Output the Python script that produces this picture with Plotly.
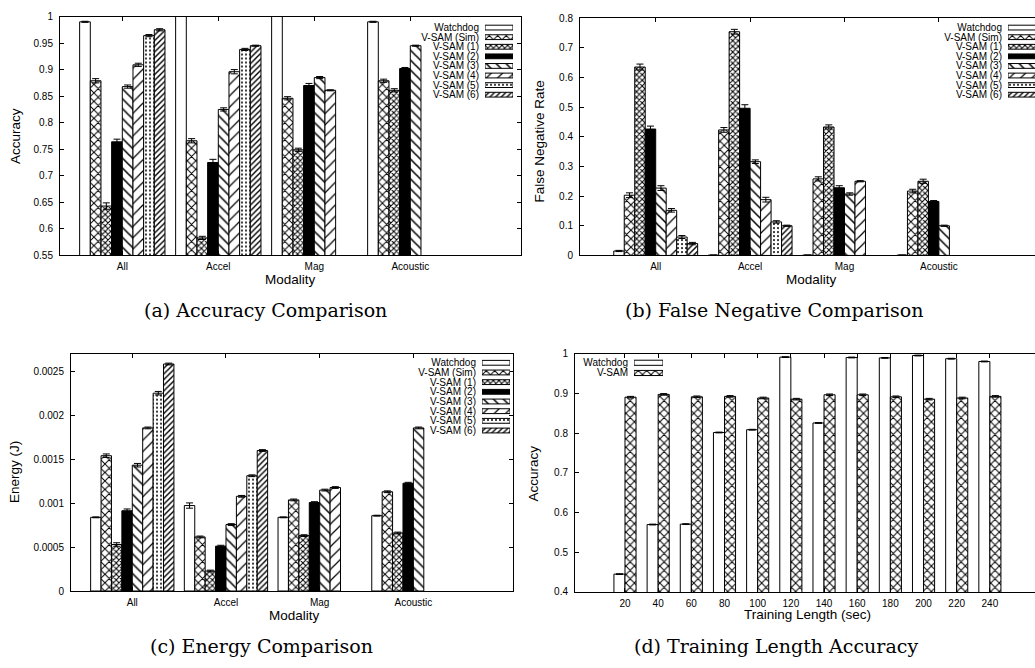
import plotly.graph_objects as go

W, H = 1035, 668


def px(x):
    return x / W


def py(y):
    return 1 - y / H


FONT = "Liberation Sans, Arial, Helvetica, sans-serif"
SERIF = "DejaVu Serif, serif"

# ---------------- data ----------------
series = ["Watchdog", "V-SAM (Sim)", "V-SAM (1)", "V-SAM (2)",
          "V-SAM (3)", "V-SAM (4)", "V-SAM (5)", "V-SAM (6)"]
modalities = ["All", "Accel", "Mag", "Acoustic"]

# (a) Accuracy
acc_watchdog = [0.990, 1.000, 1.000, 0.990]
acc_sim = [0.879, 0.766, 0.846, 0.879]
acc_v1 = [0.643, 0.583, 0.749, 0.861]
acc_v2 = [0.764, 0.725, 0.870, 0.902]
acc_v3 = [0.868, 0.825, 0.885, 0.945]
acc_v4 = [0.909, 0.896, 0.861, None]
acc_v5 = [0.964, 0.938, None, None]
acc_v6 = [0.975, 0.945, None, None]
acc_err = [
    [0.001, 0.0, 0.0, 0.001],
    [0.004, 0.004, 0.003, 0.003],
    [0.006, 0.003, 0.003, 0.003],
    [0.005, 0.006, 0.004, 0.002],
    [0.003, 0.003, 0.002, 0.001],
    [0.003, 0.004, 0.001, 0],
    [0.002, 0.002, 0, 0],
    [0.002, 0.001, 0, 0],
]

# (b) False negative rate
fnr_watchdog = [0.015, 0.001, 0.001, 0.001]
fnr_sim = [0.203, 0.423, 0.258, 0.217]
fnr_v1 = [0.635, 0.754, 0.433, 0.250]
fnr_v2 = [0.426, 0.496, 0.228, 0.182]
fnr_v3 = [0.227, 0.316, 0.207, 0.100]
fnr_v4 = [0.152, 0.188, 0.250, None]
fnr_v5 = [0.062, 0.113, None, None]
fnr_v6 = [0.040, 0.100, None, None]
fnr_err = [
    [0.002, 0, 0, 0],
    [0.008, 0.008, 0.007, 0.006],
    [0.010, 0.008, 0.007, 0.007],
    [0.010, 0.012, 0.007, 0.003],
    [0.008, 0.006, 0.004, 0.002],
    [0.006, 0.008, 0.002, 0],
    [0.005, 0.004, 0, 0],
    [0.004, 0.002, 0, 0],
]

# (c) Energy
en_watchdog = [0.000838, 0.000972, 0.000838, 0.000857]
en_sim = [0.001539, 0.000615, 0.001036, 0.001129]
en_v1 = [0.000529, 0.000227, 0.000630, 0.000660]
en_v2 = [0.000913, 0.000510, 0.001006, 0.001226]
en_v3 = [0.001431, 0.000756, 0.001148, 0.001855]
en_v4 = [0.001855, 0.001077, 0.001177, None]
en_v5 = [0.002250, 0.001311, None, None]
en_v6 = [0.002582, 0.001598, None, None]
en_err = [
    [0.000005, 0.00003, 0.000005, 0.000005],
    [0.00002, 0.00001, 0.00001, 0.00001],
    [0.00002, 0.00001, 0.00001, 0.00001],
    [0.00002, 0.00001, 0.00001, 0.00001],
    [0.00002, 0.00001, 0.00001, 0.00001],
    [0.00001, 0.00001, 0.00001, 0],
    [0.00002, 0.00001, 0, 0],
    [0.00001, 0.00001, 0, 0],
]

# (d) Training length accuracy
train_len = ["20", "40", "60", "80", "100", "120", "140", "160", "180", "200", "220", "240"]
d_names = ["Watchdog", "V-SAM"]
d_watchdog = [0.445, 0.570, 0.571, 0.802, 0.809, 0.992, 0.826, 0.991, 0.990, 0.996, 0.988, 0.981]
d_vsam = [0.891, 0.898, 0.892, 0.893, 0.889, 0.886, 0.897, 0.897, 0.892, 0.886, 0.889, 0.893]
d_err_watchdog = [0.001] * 12
d_err_vsam = [0.002] * 12

# tick labels
acc_ticks = [0.55, 0.6, 0.65, 0.7, 0.75, 0.8, 0.85, 0.9, 0.95, 1.0]
acc_ticktext = ["0.55", "0.6", "0.65", "0.7", "0.75", "0.8", "0.85", "0.9", "0.95", "1"]
fnr_ticks = [0, 0.1, 0.2, 0.3, 0.4, 0.5, 0.6, 0.7, 0.8]
fnr_ticktext = ["0", "0.1", "0.2", "0.3", "0.4", "0.5", "0.6", "0.7", "0.8"]
en_ticks = [0, 0.0005, 0.001, 0.0015, 0.002, 0.0025]
en_ticktext = ["0", "0.0005", "0.001", "0.0015", "0.002", "0.0025"]
d_ticks = [0.4, 0.5, 0.6, 0.7, 0.8, 0.9, 1.0]
d_ticktext = ["0.4", "0.5", "0.6", "0.7", "0.8", "0.9", "1"]

# ---------------- styles ----------------
def pat(shape, size, solidity):
    return dict(shape=shape, size=size, solidity=solidity, fgcolor="black",
                bgcolor="white", fillmode="replace")


styles = [
    dict(color="white", pattern=dict(shape="")),
    dict(color="white", pattern=pat("x", 6, 0.3)),
    dict(color="white", pattern=pat("x", 4, 0.45)),
    dict(color="black", pattern=dict(shape="")),
    dict(color="white", pattern=pat("\\", 7, 0.22)),
    dict(color="white", pattern=pat("/", 8, 0.15)),
    dict(color="white", pattern=pat(".", 4, 0.2)),
    dict(color="white", pattern=pat("/", 4, 0.35)),
]
d_styles = [styles[0], styles[1]]

fig = go.Figure()


def add_group(xcats, value_lists, err_lists, sty, xa, ya):
    n = len(value_lists)
    w = 1.0 / (n + 1)
    for i, (vals, errs) in enumerate(zip(value_lists, err_lists)):
        fig.add_trace(go.Bar(
            x=xcats, y=vals, xaxis=xa, yaxis=ya,
            width=w, offset=-n * w / 2 + i * w,
            marker=dict(color=sty[i]["color"], pattern=sty[i]["pattern"],
                        line=dict(color="black", width=1)),
            error_y=dict(type="data", array=errs, color="black",
                         thickness=1, width=3.5),
            showlegend=False,
        ))


def add_key(names, sty, xa, ya):
    for i, nm in enumerate(names):
        fig.add_trace(go.Bar(
            y=[nm], x=[1], orientation="h", xaxis=xa, yaxis=ya, width=0.5,
            marker=dict(color=sty[i]["color"], pattern=sty[i]["pattern"],
                        line=dict(color="black", width=1)),
            showlegend=False, hoverinfo="skip",
        ))


add_group(modalities, [acc_watchdog, acc_sim, acc_v1, acc_v2, acc_v3, acc_v4, acc_v5, acc_v6],
          acc_err, styles, "x", "y")
add_group(modalities, [fnr_watchdog, fnr_sim, fnr_v1, fnr_v2, fnr_v3, fnr_v4, fnr_v5, fnr_v6],
          fnr_err, styles, "x2", "y2")
add_group(modalities, [en_watchdog, en_sim, en_v1, en_v2, en_v3, en_v4, en_v5, en_v6],
          en_err, styles, "x3", "y3")
add_group(train_len, [d_watchdog, d_vsam], [d_err_watchdog, d_err_vsam], d_styles, "x4", "y4")

add_key(series, styles, "x5", "y5")
add_key(series, styles, "x6", "y6")
add_key(series, styles, "x7", "y7")
add_key(d_names, d_styles, "x8", "y8")


def xaxis_cfg(dom, rng, cats, anchor):
    return dict(domain=[px(dom[0]), px(dom[1])], range=rng, type="category",
                categoryorder="array", categoryarray=cats, anchor=anchor,
                tickmode="array", tickvals=cats, ticktext=cats,
                showline=True, linecolor="black", linewidth=1, mirror="ticks",
                ticks="inside", ticklen=4, tickcolor="black", tickwidth=1,
                showgrid=False, zeroline=False, ticklabelstandoff=2,
                tickfont=dict(family=FONT, size=10, color="black"))


def yaxis_cfg(dom, rng, tv, tt, anchor, mirror):
    return dict(domain=[py(dom[1]), py(dom[0])], range=rng, anchor=anchor,
                tickmode="array", tickvals=tv, ticktext=tt,
                showline=True, linecolor="black", linewidth=1,
                mirror="ticks" if mirror else False,
                ticks="inside", ticklen=4, tickcolor="black", tickwidth=1,
                showgrid=False, zeroline=False, ticklabelstandoff=4,
                tickfont=dict(family=FONT, size=10, color="black"))


def key_x(dom, rng, anchor):
    return dict(domain=[px(dom[0]), px(dom[1])], range=rng, anchor=anchor,
                visible=False, fixedrange=True)


def key_y(dom, names, anchor):
    n = len(names)
    return dict(domain=[py(dom[1]), py(dom[0])], type="category",
                categoryorder="array", categoryarray=names,
                tickmode="array", tickvals=names, ticktext=names,
                range=[n - 0.5, -0.5], anchor=anchor, showline=False,
                ticks="", showgrid=False, zeroline=False, ticklabelstandoff=5,
                tickfont=dict(family=FONT, size=10, color="black"))


layout = dict(
    width=W, height=H, margin=dict(l=0, r=0, t=0, b=0),
    paper_bgcolor="white", plot_bgcolor="rgba(0,0,0,0)",
    barmode="overlay", showlegend=False,
    xaxis=xaxis_cfg((60, 521), [-0.649, 4.153], modalities, "y"),
    yaxis=yaxis_cfg((10.7, 254), [0.55, 1.0], acc_ticks, acc_ticktext, "x", True),
    xaxis2=xaxis_cfg((580, 1035), [-0.802, 4.018], modalities, "y2"),
    yaxis2=yaxis_cfg((12.3, 254), [0, 0.8], fnr_ticks, fnr_ticktext, "x2", False),
    xaxis3=xaxis_cfg((71, 513), [-0.654, 4.063], modalities, "y3"),
    yaxis3=yaxis_cfg((354, 595.7), [0, 0.0027], en_ticks, en_ticktext, "x3", True),
    xaxis4=xaxis_cfg((575, 1035), [-1.507, 12.36], train_len, "y4"),
    yaxis4=yaxis_cfg((354.3, 596.7), [0.4, 1.0], d_ticks, d_ticktext, "x4", False),
    xaxis5=key_x((485, 513), [0, 1], "y5"),
    yaxis5=key_y((17.1, 95.2), series, "x5"),
    xaxis6=key_x((1008, 1035), [0, 0.964], "y6"),
    yaxis6=key_y((17.1, 95.2), series, "x6"),
    xaxis7=key_x((482, 510), [0, 1], "y7"),
    yaxis7=key_y((358.4, 437.2), series, "x7"),
    xaxis8=key_x((634, 663), [0, 1], "y8"),
    yaxis8=key_y((358.1, 378.9), d_names, "x8"),
)
fig.update_layout(**layout)

annots = [
    ("Accuracy", 15.5, 133, -90, 13.5, FONT),
    ("Modality", 290, 278, 0, 13.5, FONT),
    ("False Negative Rate", 540, 138, -90, 13.5, FONT),
    ("Modality", 811.7, 278, 0, 13.5, FONT),
    ("Energy (J)", 14.5, 475, -90, 13.5, FONT),
    ("Modality", 294, 620.7, 0, 13.5, FONT),
    ("Accuracy", 533, 476, -90, 13.5, FONT),
    ("Training Length (sec)", 807.5, 620, 0, 13.5, FONT),
    ("(a) Accuracy Comparison", 265.7, 310, 0, 19, SERIF),
    ("(b) False Negative Comparison", 774, 310, 0, 19, SERIF),
    ("(c) Energy Comparison", 261, 652, 0, 19, SERIF),
    ("(d) Training Length Accuracy", 775.5, 652, 0, 19, SERIF),
]
for text, x, y, ang, size, fam in annots:
    fig.add_annotation(text=text, x=px(x), y=py(y), xref="paper", yref="paper",
                       xanchor="center", yanchor="middle", textangle=ang,
                       showarrow=False, font=dict(family=fam, size=size, color="black"))

fig.write_html("out.html")
